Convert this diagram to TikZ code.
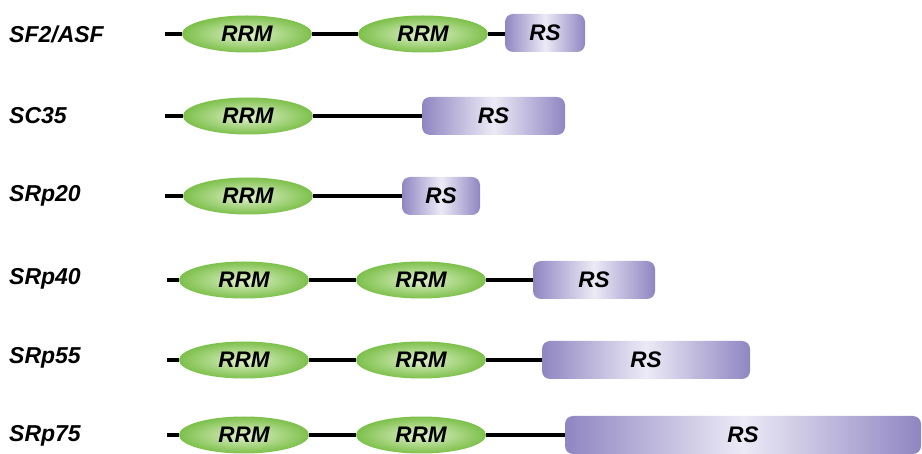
\documentclass[tikz,border=0pt]{standalone}
\usepackage{fontspec}
\setmainfont{Liberation Sans}
\usetikzlibrary{shapes.geometric}
\definecolor{rrmdark}{HTML}{7DC04B}
\definecolor{rrmlight}{HTML}{E2F2CC}
\definecolor{rsdark}{HTML}{8F86C2}
\definecolor{rslight}{HTML}{ECEAF6}
\tikzset{
  lab/.style={anchor=west, inner sep=0pt, font=\fontsize{23}{26}\selectfont\bfseries\itshape},
  rrm/.style={ellipse, minimum width=130pt, minimum height=37pt, inner sep=0pt,
    inner color=rrmlight, outer color=rrmdark, font=\fontsize{22.5}{26}\selectfont\bfseries\itshape},
  rsbox/.style={rectangle, rounded corners=8pt, minimum height=38pt, inner sep=0pt,
    left color=rsdark, right color=rsdark, middle color=rslight,
    font=\fontsize{22.5}{26}\selectfont\bfseries\itshape},
  linker/.style={line width=4pt, black}
}
\begin{document}
\begin{tikzpicture}[x=1pt,y=-1pt]
\useasboundingbox (0,0) rectangle (922,454);
% row 1
\node[lab] (l1) at (9,34) {SF2/ASF};
\coordinate (s1) at (165,34);
\node[rrm] (a1) at (247,34) {RRM};
\node[rrm] (b1) at (423,34) {RRM};
\node[rsbox, minimum width=80pt] (r1) at (545,33) {RS};
\draw[linker] (s1) -- (a1.west) (a1.east) -- (b1.west) (b1.east) -- (b1.east -| r1.west);
% row 2
\node[lab] (l2) at (9,116) {SC35};
\coordinate (s2) at (165,116);
\node[rrm] (a2) at (248,116) {RRM};
\node[rsbox, minimum width=143pt] (r2) at (493.5,116) {RS};
\draw[linker] (s2) -- (a2.west) (a2.east) -- (r2.west);
% row 3
\node[lab] (l3) at (9,196) {SRp20};
\coordinate (s3) at (165,196);
\node[rrm] (a3) at (248,196) {RRM};
\node[rsbox, minimum width=78pt] (r3) at (441,196) {RS};
\draw[linker] (s3) -- (a3.west) (a3.east) -- (r3.west);
% row 4
\node[lab] (l4) at (9,279) {SRp40};
\coordinate (s4) at (167,280);
\node[rrm] (a4) at (244,280) {RRM};
\node[rrm] (b4) at (421,280) {RRM};
\node[rsbox, minimum width=122pt] (r4) at (594,280) {RS};
\draw[linker] (s4) -- (a4.west) (a4.east) -- (b4.west) (b4.east) -- (r4.west);
% row 5
\node[lab] (l5) at (9,358) {SRp55};
\coordinate (s5) at (167,360);
\node[rrm] (a5) at (244,360) {RRM};
\node[rrm] (b5) at (421,360) {RRM};
\node[rsbox, minimum width=208pt] (r5) at (646,360) {RS};
\draw[linker] (s5) -- (a5.west) (a5.east) -- (b5.west) (b5.east) -- (r5.west);
% row 6
\node[lab] (l6) at (9,436) {SRp75};
\coordinate (s6) at (167,435);
\node[rrm] (a6) at (244,435) {RRM};
\node[rrm] (b6) at (421,435) {RRM};
\node[rsbox, minimum width=356pt] (r6) at (743,435) {RS};
\draw[linker] (s6) -- (a6.west) (a6.east) -- (b6.west) (b6.east) -- (r6.west);
\end{tikzpicture}
\end{document}
